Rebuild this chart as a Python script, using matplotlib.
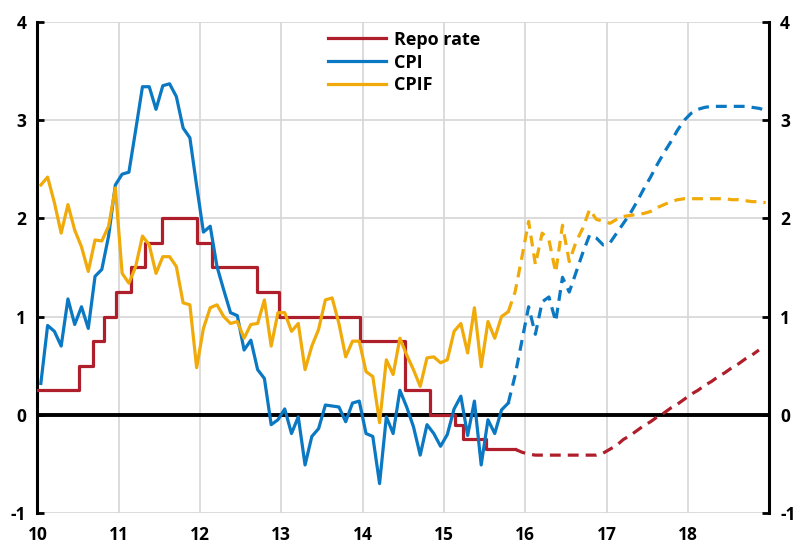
import matplotlib
matplotlib.use("Agg")
import matplotlib.pyplot as plt
import numpy as np
import pandas as pd

plt.rcParams['font.family'] = ['Open Sans', 'DejaVu Sans']
plt.rcParams['axes.unicode_minus'] = False

# ---- Data (monthly, from Jan 2010) ----
cpi_actual = [0.32, 0.91, 0.85, 0.70, 1.18, 0.92, 1.10, 0.88, 1.41, 1.48, 1.82, 2.34,
              2.45, 2.47, 2.90, 3.34, 3.34, 3.11, 3.35, 3.37, 3.24, 2.92, 2.82, 2.33,
              1.86, 1.92, 1.51, 1.27, 1.04, 1.01, 0.66, 0.76, 0.46, 0.37, -0.10, -0.05,
              0.06, -0.19, -0.02, -0.51, -0.22, -0.14, 0.10, 0.09, 0.08, -0.07, 0.12, 0.14,
              -0.19, -0.22, -0.70, -0.02, -0.19, 0.25, 0.08, -0.12, -0.41, -0.10, -0.19, -0.32,
              -0.20, 0.06, 0.19, -0.21, 0.14, -0.51, -0.05, -0.19, 0.05, 0.12]

cpif_actual = [2.34, 2.42, 2.16, 1.85, 2.14, 1.88, 1.71, 1.46, 1.78, 1.77, 1.92, 2.31,
               1.44, 1.34, 1.51, 1.82, 1.73, 1.44, 1.61, 1.61, 1.51, 1.14, 1.12, 0.48,
               0.88, 1.09, 1.12, 1.00, 0.93, 0.95, 0.78, 0.92, 0.93, 1.17, 0.70, 1.04,
               1.04, 0.85, 0.93, 0.46, 0.70, 0.87, 1.17, 1.19, 0.93, 0.59, 0.75, 0.75,
               0.44, 0.39, -0.08, 0.56, 0.41, 0.78, 0.61, 0.46, 0.29, 0.58, 0.59, 0.53,
               0.56, 0.85, 0.93, 0.63, 1.09, 0.49, 0.95, 0.78, 1.00, 1.05]

# Forecasts, monthly from Oct 2015 (month index 69) to Dec 2018
cpi_forecast = [0.12, 0.40, 0.75, 1.10, 0.82, 1.15, 1.20, 0.95, 1.40, 1.25, 1.45, 1.65,
                1.83, 1.80, 1.73, 1.75, 1.85, 1.95, 2.05, 2.17, 2.30, 2.42, 2.55, 2.67,
                2.78, 2.90, 3.00, 3.07, 3.11, 3.13, 3.14, 3.14, 3.14, 3.14, 3.14, 3.14,
                3.13, 3.12, 3.10]

cpif_forecast = [1.05, 1.25, 1.60, 1.97, 1.53, 1.85, 1.78, 1.45, 1.93, 1.56, 1.76, 1.90,
                 2.09, 1.99, 1.97, 1.95, 1.99, 2.02, 2.03, 2.04, 2.05, 2.07, 2.11, 2.14,
                 2.17, 2.19, 2.20, 2.20, 2.20, 2.20, 2.20, 2.20, 2.20, 2.19, 2.19, 2.18,
                 2.17, 2.17, 2.16]

# Repo rate forecast, monthly from Nov 2015 (month index 70) to Nov 2018
repo_forecast = [-0.35, -0.38, -0.40, -0.41, -0.41, -0.41, -0.41, -0.41, -0.41, -0.41,
                 -0.41, -0.41, -0.41, -0.39, -0.35, -0.31, -0.25, -0.21, -0.16, -0.11,
                 -0.07, -0.02, 0.02, 0.07, 0.11, 0.16, 0.21, 0.25, 0.30, 0.34, 0.39,
                 0.43, 0.48, 0.52, 0.57, 0.61, 0.66]

# Repo rate decisions (effective dates) and levels
repo_dates = ['2010-01-01', '2010-07-07', '2010-09-08', '2010-10-27', '2010-12-21',
              '2011-02-22', '2011-04-27', '2011-07-13', '2011-12-20', '2012-02-22',
              '2012-09-12', '2012-12-19', '2013-12-18', '2014-07-09', '2014-10-29',
              '2015-02-18', '2015-03-25', '2015-07-08', '2015-11-15']
repo_rates = [0.25, 0.50, 0.75, 1.00, 1.25, 1.50, 1.75, 2.00, 1.75, 1.50, 1.25, 1.00,
              0.75, 0.25, 0.00, -0.10, -0.25, -0.35, -0.35]

x_ticks = [10, 11, 12, 13, 14, 15, 16, 17, 18]
y_ticks = [-1, 0, 1, 2, 3, 4]

# ---- positions ----
def month_pos(start, n):
    return 10 + (np.arange(start, start + n) + 0.5) / 12.0

d = pd.to_datetime(repo_dates)
repo_x = 10 + ((d.year - 2010) * 12 + (d.month - 1) + (d.day - 1) / d.days_in_month) / 12.0

c_red = '#AE1F2B'
c_blue = '#0A78C2'
c_yel = '#F0AA0A'
lw = 2.3
dash = (0, (3.4, 2.2))

fig = plt.figure(figsize=(7.97, 5.47), dpi=100)
ax = fig.add_axes([0.047, 0.062, 0.918, 0.898])

ax.step(repo_x, repo_rates, where='post', color=c_red, lw=lw, label='Repo rate', zorder=4)
ax.plot(month_pos(0, len(cpi_actual)), cpi_actual, color=c_blue, lw=lw, label='CPI', zorder=4)
ax.plot(month_pos(0, len(cpif_actual)), cpif_actual, color=c_yel, lw=lw, label='CPIF', zorder=4)

ax.plot(month_pos(69, len(cpi_forecast)), cpi_forecast, color=c_blue, lw=lw, ls=dash, zorder=4)
ax.plot(month_pos(69, len(cpif_forecast)), cpif_forecast, color=c_yel, lw=lw, ls=dash, zorder=4)
ax.plot(month_pos(70, len(repo_forecast)), repo_forecast, color=c_red, lw=lw, ls=dash, zorder=4)

ax.axhline(0, color='black', lw=2.8, zorder=3)

ax.set_xlim(10, 19)
ax.set_ylim(-1, 4)
ax.set_xticks(x_ticks)
ax.set_xticklabels([str(t) for t in x_ticks])
ax.set_yticks(y_ticks)
ax.set_yticklabels([str(t) for t in y_ticks])

ax.grid(True, color='#D6D6D6', lw=1.2, zorder=0)
ax.set_axisbelow(True)

for s in ['top', 'bottom']:
    ax.spines[s].set_visible(False)
for s in ['left', 'right']:
    ax.spines[s].set_linewidth(2.2)
    ax.spines[s].set_color('black')

ax.tick_params(axis='x', length=0, pad=9, labelsize=12.5)
ax.tick_params(axis='y', direction='in', length=5, width=2, left=True, right=True,
               labelleft=True, labelright=True, labelsize=12.5, pad=8)
for lab in ax.get_xticklabels() + ax.get_yticklabels():
    lab.set_fontweight('bold')
for t in ax.yaxis.get_major_ticks():
    t.label2.set_fontweight('bold')

leg = ax.legend(loc='upper left', bbox_to_anchor=(0.397, 0.982), frameon=False,
                borderaxespad=0, borderpad=0,
                handlelength=3.2, handletextpad=0.45, labelspacing=0.27,
                prop={'weight': 'bold', 'size': 13})

fig.savefig('out.png', dpi=100)
